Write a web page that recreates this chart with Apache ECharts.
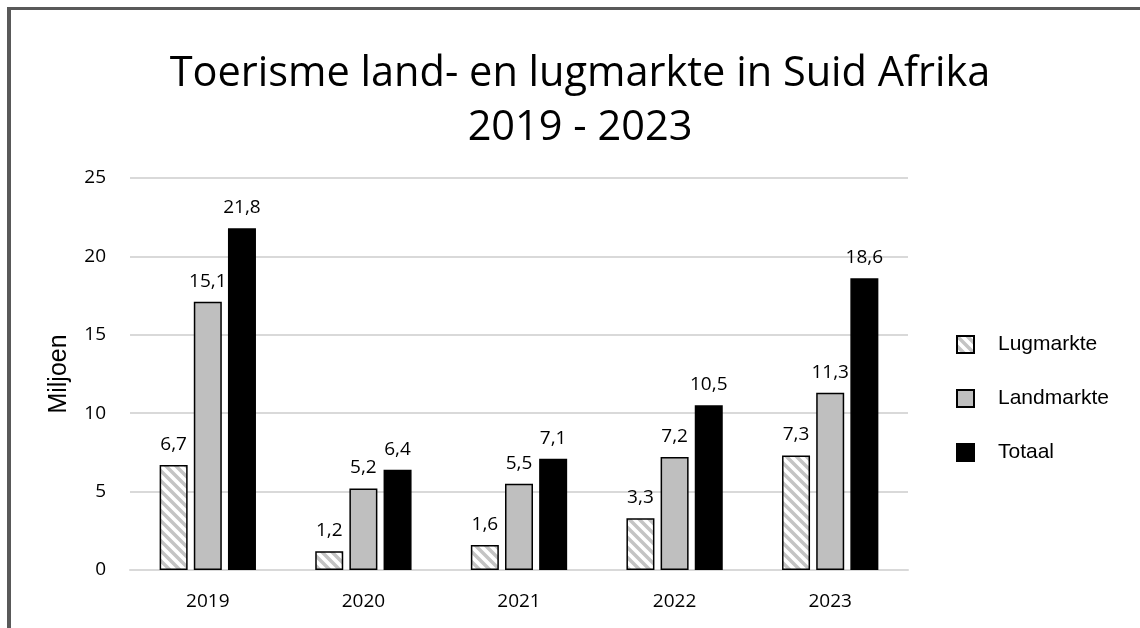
<!DOCTYPE html>
<html>
<head>
<meta charset="utf-8">
<script src="https://cdn.jsdelivr.net/npm/echarts@6/dist/echarts.min.js"></script>
<style>
  html, body { margin: 0; padding: 0; background: #fff; }
  #chart { width: 1140px; height: 628px; }
</style>
</head>
<body>
<div id="chart"></div>
<script>
// data
var jare = ['2019', '2020', '2021', '2022', '2023'];
var lugmarkte = [6.7, 1.2, 1.6, 3.3, 7.3];
// bar heights as drawn in the picture (2019 bar stands at ~17 while its label reads 15,1)
var landmarkte = [17.1, 5.2, 5.5, 7.2, 11.3];
var landmarkteEtiket = [15.1, 5.2, 5.5, 7.2, 11.3];
var totaal = [21.8, 6.4, 7.1, 10.5, 18.6];
var yTicks = [0, 5, 10, 15, 20, 25];

// hatch pattern for Lugmarkte ("\" stripes)
function maakStreep() {
    var c = document.createElement('canvas');
    c.width = 10; c.height = 10;
    var ctx = c.getContext('2d');
    ctx.fillStyle = '#ffffff';
    ctx.fillRect(0, 0, 10, 10);
    ctx.strokeStyle = '#c4c4c4';
    ctx.lineWidth = 3.5;
    ctx.beginPath();
    ctx.moveTo(-2, -2); ctx.lineTo(12, 12);
    ctx.moveTo(-7, 3); ctx.lineTo(7, 17);
    ctx.moveTo(3, -7); ctx.lineTo(17, 7);
    ctx.stroke();
    return c;
}

var myChart = echarts.init(document.getElementById('chart'));

var komma = function (v) { return String(v).replace('.', ','); };

function labelStyle(fmt) {
    return {
        show: true,
        position: 'top',
        distance: 11,
        fontFamily: 'Open Sans',
        fontSize: 19,
        color: '#000',
        formatter: fmt
    };
}

var option = {
    backgroundColor: '#fff',
    animation: false,
    title: {
        text: 'Toerisme land- en lugmarkte in Suid Afrika\n2019 - 2023',
        left: 575,
        textAlign: 'center',
        top: 42,
        textStyle: {
            fontFamily: 'Open Sans',
            fontWeight: 'normal',
            fontSize: 41.5,
            lineHeight: 54,
            color: '#000'
        }
    },
    graphic: [
        { type: 'rect', shape: { x: 7, y: 7, width: 4, height: 640 }, style: { fill: '#595959' } },
        { type: 'rect', shape: { x: 7, y: 7, width: 1140, height: 3 }, style: { fill: '#595959' } }
    ],
    legend: {
        orient: 'vertical',
        left: 951,
        top: 329,
        icon: 'rect',
        itemWidth: 17,
        itemHeight: 17,
        itemGap: 33,
        data: ['Lugmarkte', 'Landmarkte', 'Totaal'],
        textStyle: {
            fontFamily: 'Liberation Sans',
            fontSize: 21,
            color: '#000',
            padding: [0, 0, 0, 19]
        }
    },
    grid: {
        left: 130,
        right: 232,
        top: 178,
        bottom: 58
    },
    xAxis: {
        type: 'category',
        data: jare,
        axisTick: { show: false },
        axisLine: { lineStyle: { color: '#d9d9d9', width: 2 } },
        axisLabel: {
            margin: 22,
            fontFamily: 'Open Sans',
            fontSize: 19,
            color: '#000'
        }
    },
    yAxis: {
        type: 'value',
        min: yTicks[0],
        max: yTicks[yTicks.length - 1],
        interval: 5,
        name: 'Miljoen',
        nameLocation: 'middle',
        nameRotate: 90,
        nameGap: 58,
        nameTextStyle: {
            fontFamily: 'Liberation Sans',
            fontSize: 25,
            color: '#000'
        },
        axisLine: { show: false },
        axisTick: { show: false },
        splitLine: { lineStyle: { color: '#d9d9d9', width: 2 } },
        axisLabel: {
            margin: 24,
            fontFamily: 'Open Sans',
            fontSize: 19,
            color: '#000'
        }
    },
    series: [
        {
            name: 'Lugmarkte',
            type: 'bar',
            data: lugmarkte,
            barWidth: 28,
            barGap: '22%',
            itemStyle: {
                color: { image: maakStreep(), repeat: 'repeat' },
                borderColor: '#000',
                borderWidth: 1.5
            },
            label: labelStyle(function (p) { return komma(p.value); })
        },
        {
            name: 'Landmarkte',
            type: 'bar',
            data: landmarkte,
            barWidth: 28,
            barGap: '22%',
            itemStyle: {
                color: '#bfbfbf',
                borderColor: '#000',
                borderWidth: 1.5
            },
            label: labelStyle(function (p) { return komma(landmarkteEtiket[p.dataIndex]); })
        },
        {
            name: 'Totaal',
            type: 'bar',
            data: totaal,
            barWidth: 28,
            barGap: '22%',
            itemStyle: {
                color: '#000',
                borderColor: '#000',
                borderWidth: 1.5
            },
            label: labelStyle(function (p) { return komma(p.value); })
        }
    ]
};

myChart.setOption(option);
</script>
</body>
</html>
